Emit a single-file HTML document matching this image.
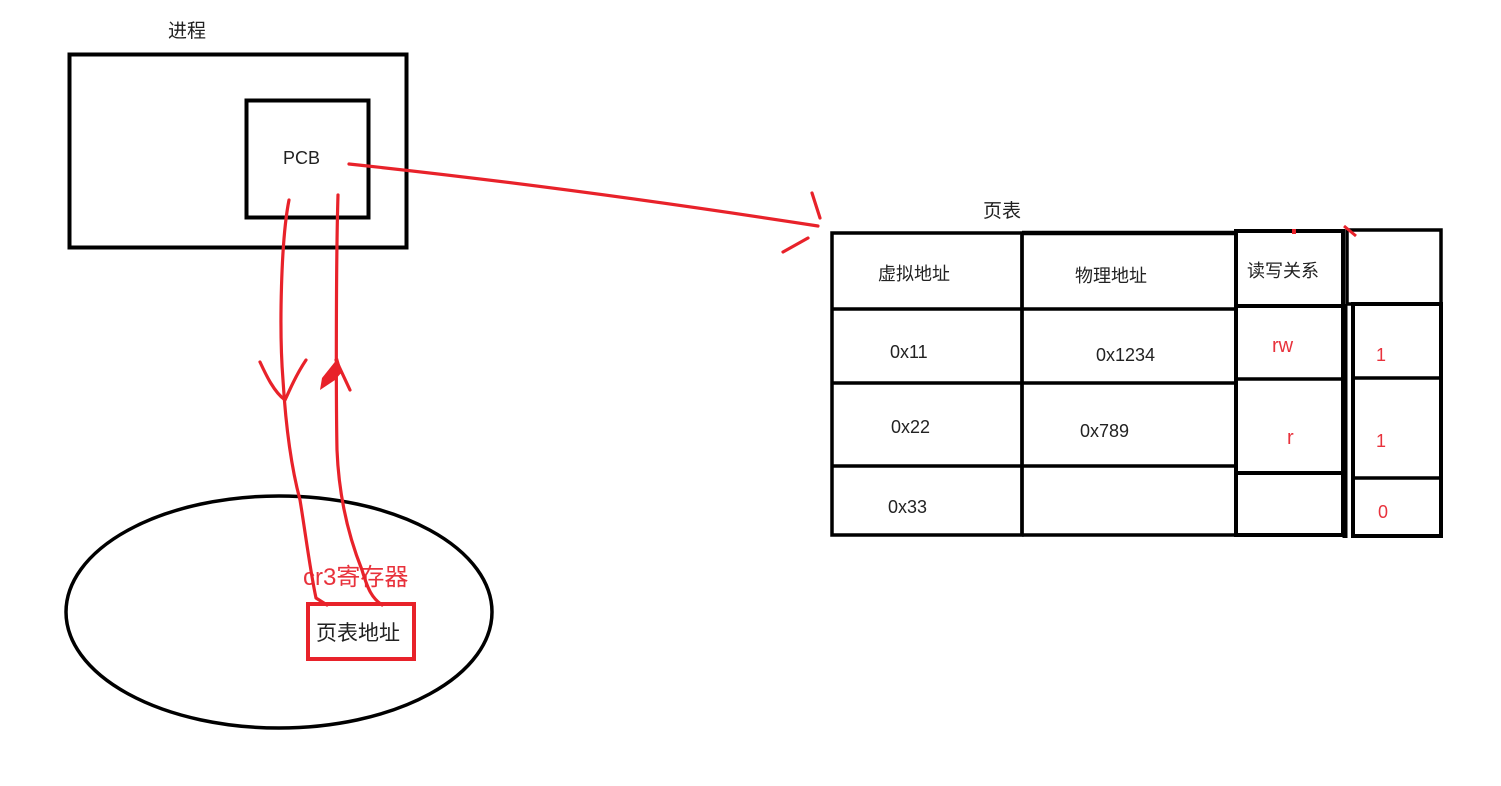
<!DOCTYPE html>
<html><head><meta charset="utf-8"><style>
html,body{margin:0;padding:0;background:#fff;}
svg{display:block;}
text{font-family:"Liberation Sans","Noto Sans CJK SC",sans-serif;}
</style></head><body>
<svg width="1501" height="786" viewBox="0 0 1501 786" xmlns="http://www.w3.org/2000/svg">
<rect width="1501" height="786" fill="#fff"/>
<text x="168" y="37" font-size="19" fill="#222">进程</text>
<rect x="69.5" y="54.5" width="337" height="193" fill="none" stroke="#000" stroke-width="4"/>
<rect x="246.5" y="100.5" width="122" height="117" fill="none" stroke="#000" stroke-width="4"/>
<text x="283" y="164" font-size="18" fill="#222">PCB</text>
<ellipse cx="279" cy="612" rx="213" ry="116" fill="none" stroke="#000" stroke-width="3.5"/>
<text x="303" y="585" font-size="24" fill="#e8323c">cr3寄存器</text>
<rect x="308" y="604" width="106" height="55" fill="none" stroke="#e8222a" stroke-width="4"/>
<text x="316" y="640" font-size="21" fill="#222">页表地址</text>
<g fill="none" stroke="#e8222a" stroke-width="3.2" stroke-linecap="round" stroke-linejoin="round">
<path d="M289 200 C281 240 279 330 283 380 C286 430 292 470 300 500 C305 530 310 570 316 598 L327 605"/>
<path d="M260 362 C266 375 274 392 285 400 C290 390 294 378 306 360"/>
<path d="M338 195 C336 260 336 400 337 450 C339 500 350 540 362 570 C368 590 372 598 382 605"/>
<path d="M336 360 L350 390"/>
<path d="M349 164 C500 180 650 200 818 226"/>
<path d="M812 193 L820 218"/>
<path d="M783 252 L808 238"/>
</g>
<path d="M338 358 L322 378 L320 390 L335 380 L342 372 Z" fill="#e8222a"/>
<text x="983" y="217" font-size="19" fill="#222">页表</text>
<g fill="none" stroke="#000" stroke-width="3.5">
<rect x="832" y="233" width="190" height="302"/>
<line x1="1022" y1="233" x2="1236" y2="233" stroke-width="4.5"/>
<line x1="1022" y1="235" x2="1022" y2="535"/>
<line x1="832" y1="309" x2="1236" y2="309"/>
<line x1="832" y1="383" x2="1236" y2="383"/>
<line x1="832" y1="466" x2="1236" y2="466"/>
<line x1="1022" y1="535" x2="1236" y2="535"/>
<rect x="1236" y="231" width="107" height="304" stroke-width="4"/>
<line x1="1236" y1="306" x2="1343" y2="306" stroke-width="4"/>
<line x1="1236" y1="379" x2="1343" y2="379"/>
<line x1="1236" y1="473" x2="1343" y2="473" stroke-width="4"/>
<rect x="1347" y="230" width="94" height="74"/>
<rect x="1353" y="304" width="88" height="232" stroke-width="4"/>
<line x1="1353" y1="378" x2="1441" y2="378"/>
<line x1="1353" y1="478" x2="1441" y2="478"/>
<line x1="1345" y1="304" x2="1345" y2="538" stroke-width="5"/>
</g>
<g font-size="18" fill="#222">
<text x="878" y="280">虚拟地址</text>
<text x="1075" y="282">物理地址</text>
<text x="1247" y="277">读写关系</text>
<text x="890" y="358">0x11</text>
<text x="1096" y="361">0x1234</text>
<text x="891" y="433">0x22</text>
<text x="1080" y="437">0x789</text>
<text x="888" y="513">0x33</text>
</g>
<g font-size="20" fill="#e8323c">
<text x="1272" y="352">rw</text>
<text x="1287" y="444">r</text>
<text x="1376" y="361" font-size="18">1</text>
<text x="1376" y="447" font-size="18">1</text>
<text x="1378" y="518" font-size="18">0</text>
</g>
<rect x="1292" y="229" width="4" height="5" fill="#e8222a"/>
<path d="M1344 226 L1356 236" stroke="#e8222a" stroke-width="3"/>
</svg>
</body></html>
